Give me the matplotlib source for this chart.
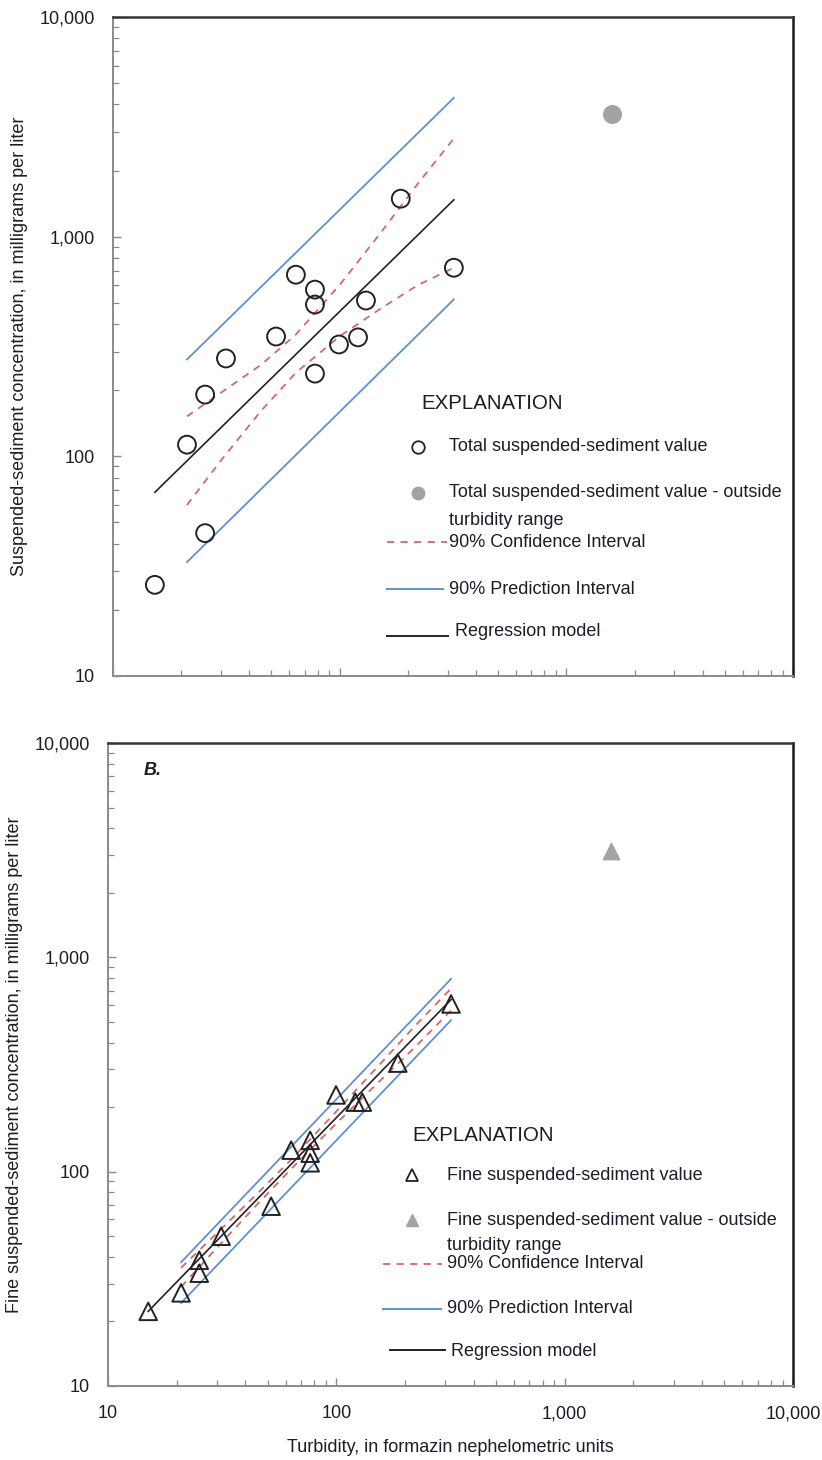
import matplotlib
matplotlib.use('Agg')
import matplotlib.pyplot as plt
from matplotlib.lines import Line2D

OUTPUT_FILE = "out.png"

plt.rcParams['font.family'] = ['Liberation Sans', 'DejaVu Sans']

# --- Panel A: total suspended sediment ---
turb_total = [15.3, 21.2, 25.5, 25.5, 31.5, 52.4, 64.1, 77.8, 77.8, 77.8, 99.3, 120.5, 130.6, 186, 319]
ssc_total = [26, 113, 191, 44.7, 279, 351, 671, 574, 491, 238, 323, 348, 512, 1489, 722]
turb_total_out = [1590]
ssc_total_out = [3620]

reg_turb_total = [15.3, 319]
reg_ssc_total = [68.6, 1472]
pi_turb_total = [21.2, 319]
pi_upper_total = [276, 4285]
pi_lower_total = [33, 518]
ci_turb_total = [21.2, 30, 45, 64, 100, 150, 220, 319]
ci_upper_total = [152, 195, 261, 358, 603, 1026, 1730, 2800]
ci_lower_total = [60, 96, 161, 240, 352, 467, 600, 722]

# --- Panel B: fine suspended sediment ---
turb_fine = [15.0, 20.9, 25.1, 25.1, 31.3, 51.8, 63.4, 76.8, 76.8, 76.8, 99.7, 121, 130, 186, 318]
ssc_fine = [22.3, 27.2, 33.6, 38.6, 50, 69, 126, 140, 122, 110, 228, 211, 211, 321, 606]
turb_fine_out = [1596]
ssc_fine_out = [3134]

reg_turb_fine = [15.0, 318]
reg_ssc_fine = [22.3, 635]
pi_turb_fine = [20.9, 318]
pi_upper_fine = [37.8, 793]
pi_lower_fine = [24.4, 509]
ci_turb_fine = [20.9, 30, 45, 64, 100, 150, 220, 318]
ci_upper_fine = [35.6, 51.7, 78.9, 115, 191, 305, 476, 715]
ci_lower_fine = [29.0, 44.2, 70.3, 104, 168, 256, 379, 565]

TICK_LABELS = ["10", "100", "1,000", "10,000"]

BLUE = "#5f8fd3"
RED = "#d46868"
DARK = "#222222"
GRAY_PT = "#a3a3a3"
TEXT = "#1c1c2a"


def style_axes(ax, show_xlabels):
    ax.set_xscale("log")
    ax.set_yscale("log")
    ax.set_xlim(10, 10000)
    ax.set_ylim(10, 10000)
    ax.set_yticks([10, 100, 1000, 10000])
    ax.set_yticklabels(TICK_LABELS)
    ax.set_xticks([10, 100, 1000, 10000])
    ax.set_xticklabels(TICK_LABELS if show_xlabels else [])
    ax.tick_params(which="both", direction="in", color="#8a8a8a", top=False, right=False)
    ax.tick_params(which="major", length=6, width=1.0)
    ax.tick_params(which="minor", length=4, width=0.9)
    ax.tick_params(axis="y", which="major", pad=13, labelsize=13, labelcolor=TEXT)
    ax.tick_params(axis="x", which="major", pad=14, labelsize=13, labelcolor=TEXT)
    ax.tick_params(which="minor", labelleft=False, labelbottom=False)
    ax.spines["left"].set_color("#8a8a8a")
    ax.spines["bottom"].set_color("#8a8a8a")
    ax.spines["left"].set_linewidth(1.4)
    ax.spines["bottom"].set_linewidth(1.4)
    ax.spines["top"].set_color("#333333")
    ax.spines["right"].set_color("#1a1a1a")
    ax.spines["top"].set_linewidth(1.8)
    ax.spines["right"].set_linewidth(1.8)


def draw_model(ax, reg_x, reg_y, pi_x, pi_up, pi_lo, ci_x, ci_up, ci_lo):
    ax.plot(pi_x, pi_up, color=BLUE, linewidth=1.3, zorder=2)
    ax.plot(pi_x, pi_lo, color=BLUE, linewidth=1.3, zorder=2)
    ax.plot(ci_x, ci_up, color=RED, linewidth=1.3, dashes=(4, 3.5), zorder=2)
    ax.plot(ci_x, ci_lo, color=RED, linewidth=1.3, dashes=(4, 3.5), zorder=2)
    ax.plot(reg_x, reg_y, color=DARK, linewidth=1.2, zorder=3)


def draw_explanation(ax, marker, msize, pos):
    tr = ax.transAxes
    fs = 13
    ax.text(pos["title"][0], pos["title"][1], "EXPLANATION", transform=tr,
            fontsize=14.8, color=TEXT, va="center", ha="left")
    ax.add_line(Line2D([pos["m1"][0]], [pos["m1"][1]], transform=tr, marker=marker,
                       markersize=msize, markerfacecolor="white", markeredgecolor=DARK,
                       markeredgewidth=1.3, linestyle="none"))
    ax.text(pos["tx"], pos["m1"][1], pos["label1"], transform=tr,
            fontsize=fs, color=TEXT, va="center")
    ax.add_line(Line2D([pos["m2"][0]], [pos["m2"][1]], transform=tr, marker=marker,
                       markersize=msize, markerfacecolor=GRAY_PT, markeredgecolor=GRAY_PT,
                       linestyle="none"))
    ax.text(pos["tx"], pos["m2"][1], pos["label2"], transform=tr,
            fontsize=fs, color=TEXT, va="center")
    ax.text(pos["tx"], pos["m2b"], "turbidity range", transform=tr,
            fontsize=fs, color=TEXT, va="center")
    x0, x1, y = pos["ci"]
    ax.add_line(Line2D([x0, x1], [y, y], transform=tr, color=RED, linewidth=1.3, dashes=(4, 3.5)))
    ax.text(pos["tx"], y, "90% Confidence Interval", transform=tr, fontsize=fs, color=TEXT, va="center")
    x0, x1, y = pos["pi"]
    ax.add_line(Line2D([x0, x1], [y, y], transform=tr, color=BLUE, linewidth=1.4))
    ax.text(pos["tx"], y, "90% Prediction Interval", transform=tr, fontsize=fs, color=TEXT, va="center")
    x0, x1, y = pos["reg"]
    ax.add_line(Line2D([x0, x1], [y, y], transform=tr, color=DARK, linewidth=1.4))
    ax.text(pos["reg_tx"][0], pos["reg_tx"][1], "Regression model", transform=tr,
            fontsize=fs, color=TEXT, va="center")


def main():
    fig = plt.figure(figsize=(8.22, 14.6), dpi=100)
    ax_a = fig.add_axes([113 / 822, 1 - 676 / 1460, 680 / 822, 659 / 1460])
    ax_b = fig.add_axes([108 / 822, 1 - 1386 / 1460, 685 / 822, 643 / 1460])

    # Panel A
    style_axes(ax_a, show_xlabels=False)
    draw_model(ax_a, reg_turb_total, reg_ssc_total, pi_turb_total, pi_upper_total,
               pi_lower_total, ci_turb_total, ci_upper_total, ci_lower_total)
    ax_a.scatter(turb_total, ssc_total, s=165, facecolors="none", edgecolors=DARK,
                 linewidths=1.4, zorder=4)
    ax_a.scatter(turb_total_out, ssc_total_out, s=160, color=GRAY_PT, zorder=4)
    ax_a.set_ylabel("Suspended-sediment concentration, in milligrams per liter",
                    fontsize=13, color=TEXT, labelpad=8)
    draw_explanation(ax_a, "o", 9, {
        "title": (0.453, 0.414),
        "m1": (0.4485, 0.3475),
        "m2": (0.4485, 0.2777),
        "m2b": 0.2367,
        "tx": 0.494,
        "label1": "Total suspended-sediment value",
        "label2": "Total suspended-sediment value - outside",
        "ci": (0.403, 0.491, 0.2033),
        "pi": (0.403, 0.485, 0.132),
        "reg": (0.403, 0.4926, 0.0607),
        "reg_tx": (0.503, 0.0668),
    })

    # Panel B
    style_axes(ax_b, show_xlabels=True)
    draw_model(ax_b, reg_turb_fine, reg_ssc_fine, pi_turb_fine, pi_upper_fine,
               pi_lower_fine, ci_turb_fine, ci_upper_fine, ci_lower_fine)
    ax_b.scatter(turb_fine, ssc_fine, s=160, marker="^", facecolors="none",
                 edgecolors=DARK, linewidths=1.4, zorder=4)
    ax_b.scatter(turb_fine_out, ssc_fine_out, s=140, marker="^", color=GRAY_PT, zorder=4)
    ax_b.set_ylabel("Fine suspended-sediment concentration, in milligrams per liter",
                    fontsize=13, color=TEXT, labelpad=8)
    ax_b.set_xlabel("Turbidity, in formazin nephelometric units", fontsize=13,
                    color=TEXT, labelpad=12)
    ax_b.text(0.052, 0.958, "B.", transform=ax_b.transAxes, fontsize=13,
              fontweight="bold", fontstyle="italic", color=TEXT, va="center")
    draw_explanation(ax_b, "^", 8.5, {
        "title": (0.445, 0.390),
        "m1": (0.444, 0.328),
        "m2": (0.444, 0.258),
        "m2b": 0.219,
        "tx": 0.495,
        "label1": "Fine suspended-sediment value",
        "label2": "Fine suspended-sediment value - outside",
        "ci": (0.401, 0.488, 0.190),
        "pi": (0.401, 0.486, 0.120),
        "reg": (0.412, 0.492, 0.056),
        "reg_tx": (0.5007, 0.053),
    })

    fig.savefig(OUTPUT_FILE, dpi=100)
    plt.close(fig)


if __name__ == "__main__":
    main()
